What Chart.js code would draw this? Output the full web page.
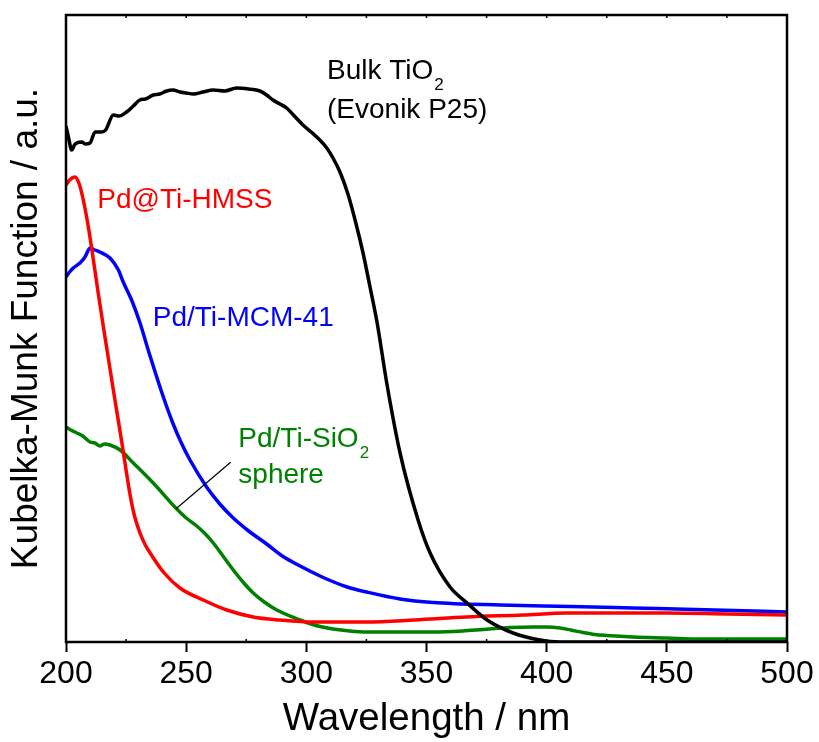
<!DOCTYPE html>
<html>
<head>
<meta charset="utf-8">
<script src="https://cdn.jsdelivr.net/npm/chart.js@4.4.1/dist/chart.umd.min.js"></script>
<style>
  body { margin: 0; background: #fff; }
</style>
</head>
<body>
<canvas id="myChart" width="819" height="742"></canvas>
<script>
// Bulk TiO2 (Evonik P25)
var bulkX = [200, 201, 202.4, 203.5, 204.5, 206.6, 208, 210, 212.1, 214.8, 216.5, 219.7, 222, 225.2, 228, 230.7, 233, 236.3, 239, 241.9, 244.5, 247.4, 250, 253, 257, 261.3, 266, 271, 276, 280.7, 283.5, 286.1, 289, 291.8, 295, 298.6, 302, 305.6, 308.5, 311.1, 314, 317.3, 320.5, 323.6, 326.5, 329.4, 333.6, 339, 346.5, 351.5, 359.8, 366.9, 375.2, 386, 397.2, 405.5, 420, 450, 500];
var bulkY = [516, 505, 492, 497, 499, 500, 498, 499, 510, 510, 512, 527, 526, 530, 536, 542, 543, 547, 548, 551, 552, 550, 549, 548, 550, 552, 551, 554, 553, 551, 547, 542, 538, 534, 526, 517, 510, 502, 494, 484, 470, 448, 420, 389, 355, 320, 257, 189, 122, 89, 55, 39, 22, 9, 2, 0, 0, 0, 0];

// Pd@Ti-HMSS
var hmssX = [200, 201.5, 203.7, 205.5, 207.2, 209.3, 211.4, 213.4, 215.5, 217.6, 219.7, 223.2, 226.6, 228.5, 230.8, 233, 235, 240.5, 247.4, 257.1, 266.9, 277.9, 289, 302.8, 325, 345, 366.7, 390, 408.3, 430, 450, 475, 500];
var hmssY = [457, 462, 465, 458, 442, 415, 382, 349, 316, 284, 252, 200, 148, 126, 109, 97, 89, 70, 54, 42, 32, 25, 22, 20, 20, 22, 25, 27, 29, 29, 29, 28, 27];

// Pd/Ti-MCM-41
var mcmX = [200, 201.5, 203, 205.8, 207.9, 210, 212, 214.1, 218.3, 221.8, 223.8, 227.3, 230.8, 234.2, 240.5, 244.6, 248, 251.6, 258.5, 264, 269.6, 276, 283.5, 290, 297.4, 305.7, 309.9, 317, 325.1, 339, 352.7, 380.6, 410, 435.9, 470, 500];
var mcmY = [365, 370, 374, 379, 385, 394, 392, 390, 384, 372, 360, 342, 319, 292, 245, 218, 199, 182, 155, 138, 124, 111, 98, 86, 76, 66, 61.5, 55, 50, 43, 39.5, 37, 35.5, 34, 32, 30];

// Pd/Ti-SiO2 sphere
var sphereX = [200, 202, 204.5, 207, 210, 212, 214.1, 216, 218.3, 222.5, 228, 236.3, 246.1, 250, 254.4, 258, 261.3, 265, 269.6, 274, 277.9, 282.5, 287.7, 297.4, 302, 305.7, 311.1, 318, 325.1, 340, 352.7, 365, 373.5, 385, 394.3, 400, 405.6, 410, 415.1, 420, 425, 435.9, 450, 463.8, 480, 500];
var sphereY = [215, 212, 209, 206, 200, 199, 196, 198, 197, 192, 179, 159, 133, 124, 116, 108, 99, 87, 72, 59, 49, 40, 32, 22, 18, 15.5, 13, 11, 10, 10, 10, 11, 12.5, 14.5, 15, 15, 14, 12, 9.5, 7.5, 6.5, 5, 4, 3, 3, 3];

var xTicks = [200, 250, 300, 350, 400, 450, 500];

// curve labels, anchored in data units (left edge, baseline)
var labels = [
  { text: "Bulk TiO", sub: "2", x: 308.6, y: 563, color: "#000000" },
  { text: "(Evonik P25)", x: 308.6, y: 524, color: "#000000" },
  { text: "Pd@Ti-HMSS", x: 213.0, y: 434, color: "#ff0000" },
  { text: "Pd/Ti-MCM-41", x: 236.1, y: 316, color: "#0000ff" },
  { text: "Pd/Ti-SiO", sub: "2", x: 271.7, y: 195, color: "#008000" },
  { text: "sphere", x: 271.7, y: 159, color: "#008000" }
];
var pointerLine = [[268.5, 179.7], [245.8, 133.3]];

var FONT = '"Liberation Sans", Arial, sans-serif';

function toPoints(xs, ys) {
  return xs.map((x, i) => ({ x: x, y: ys[i] }));
}

const labelPlugin = {
  id: 'curveLabels',
  afterDatasetsDraw(chart) {
    const ctx = chart.ctx;
    const xs = chart.scales.x;
    const ys = chart.scales.y;
    ctx.save();
    // leader line for the sphere label
    ctx.strokeStyle = "#000";
    ctx.lineWidth = 1.2;
    ctx.beginPath();
    ctx.moveTo(xs.getPixelForValue(pointerLine[0][0]), ys.getPixelForValue(pointerLine[0][1]));
    ctx.lineTo(xs.getPixelForValue(pointerLine[1][0]), ys.getPixelForValue(pointerLine[1][1]));
    ctx.stroke();

    ctx.textBaseline = "alphabetic";
    ctx.textAlign = "left";
    labels.forEach(l => {
      const px = xs.getPixelForValue(l.x);
      const py = ys.getPixelForValue(l.y);
      ctx.font = "28px " + FONT;
      ctx.fillStyle = l.color;
      ctx.fillText(l.text, px, py);
      if (l.sub) {
        const w = ctx.measureText(l.text).width;
        ctx.font = "17px " + FONT;
        ctx.fillText(l.sub, px + w + 1, py + 11);
      }
    });
    ctx.restore();
  },
  afterDraw(chart) {
    const ctx = chart.ctx;
    const a = chart.chartArea;
    const xs = chart.scales.x;
    ctx.save();
    ctx.strokeStyle = "#000";
    // small inner ticks (top every 25, bottom minors)
    ctx.lineWidth = 1.5;
    for (let v = 225; v < 500; v += 25) {
      const px = xs.getPixelForValue(v);
      ctx.beginPath();
      ctx.moveTo(px, a.top);
      ctx.lineTo(px, a.top + 3);
      ctx.stroke();
      if (v % 50 != 0) {
        ctx.beginPath();
        ctx.moveTo(px, a.bottom);
        ctx.lineTo(px, a.bottom - 3);
        ctx.stroke();
      }
    }
    // frame
    ctx.lineWidth = 2.5;
    ctx.strokeRect(a.left, a.top, a.right - a.left, a.bottom - a.top);
    ctx.restore();
  }
};

new Chart(document.getElementById("myChart"), {
  type: "line",
  data: {
    datasets: [
      { label: "Bulk TiO2", data: toPoints(bulkX, bulkY), borderColor: "#000000" },
      { label: "Pd@Ti-HMSS", data: toPoints(hmssX, hmssY), borderColor: "#ff0000" },
      { label: "Pd/Ti-MCM-41", data: toPoints(mcmX, mcmY), borderColor: "#0000ff" },
      { label: "Pd/Ti-SiO2 sphere", data: toPoints(sphereX, sphereY), borderColor: "#008000" }
    ]
  },
  options: {
    responsive: false,
    devicePixelRatio: 1,
    animation: false,
    layout: { padding: { top: 15, right: 32, bottom: 0, left: 0 } },
    elements: {
      point: { radius: 0 },
      line: { borderWidth: 3.5, cubicInterpolationMode: "monotone", fill: false }
    },
    plugins: {
      legend: { display: false },
      tooltip: { enabled: false }
    },
    scales: {
      x: {
        type: "linear",
        min: 200,
        max: 500,
        afterBuildTicks: s => { s.ticks = xTicks.map(v => ({ value: v })); },
        afterFit: s => { s.height = 100; },
        ticks: { color: "#000", font: { family: FONT, size: 32 }, padding: 3, maxRotation: 0 },
        grid: { display: true, drawOnChartArea: false, drawTicks: true, tickLength: 10, tickWidth: 2, tickColor: "#000" },
        border: { display: false },
        title: { display: true, text: "Wavelength / nm", color: "#000", font: { family: FONT, size: 38.5, lineHeight: 1.2 }, padding: { top: 0, bottom: 0 } }
      },
      y: {
        type: "linear",
        min: 0,
        max: 627,
        afterFit: s => { s.width = 66; },
        ticks: { display: false },
        grid: { display: false },
        border: { display: false },
        title: { display: true, text: "Kubelka-Munk Function / a.u.", color: "#000", font: { family: FONT, size: 37, lineHeight: 1.2 }, padding: { top: 5, bottom: 0 } }
      }
    }
  },
  plugins: [labelPlugin]
});
</script>
</body>
</html>
